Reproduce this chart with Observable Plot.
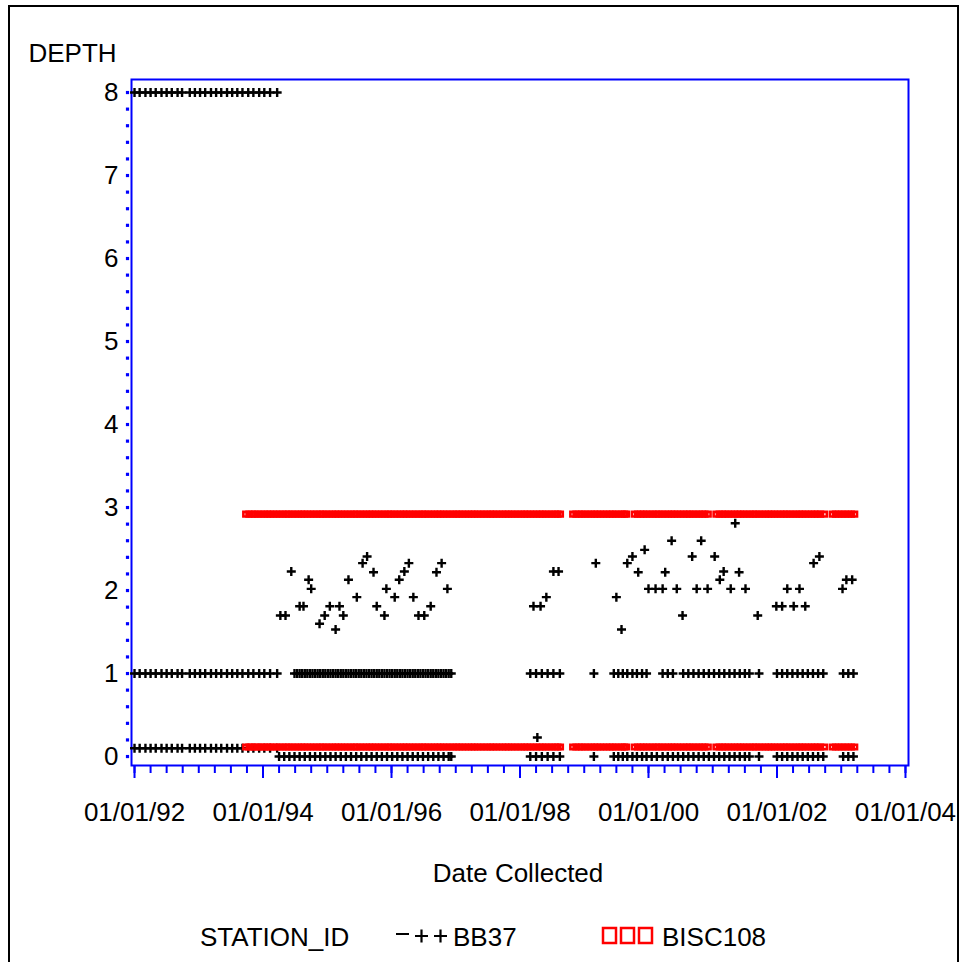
<!DOCTYPE html>
<html><head><meta charset="utf-8">
<script src="https://cdn.jsdelivr.net/npm/d3@7"></script>
<script src="https://cdn.jsdelivr.net/npm/@observablehq/plot@0.6"></script>
<style>
html,body{margin:0;padding:0;background:#fff;}
body{width:961px;height:962px;overflow:hidden;position:relative;font-family:"Liberation Sans",Arial,sans-serif;}
#chart{position:absolute;left:0;top:0;}
#legend{position:absolute;left:0;top:900px;}
#border{position:absolute;left:8px;top:5px;width:951px;height:990px;border:2px solid #000;box-sizing:border-box;pointer-events:none;}
</style></head><body>
<div id="chart"></div>
<svg id="legend" width="961" height="62" xmlns="http://www.w3.org/2000/svg"></svg>
<div id="border"></div>
<script>
// ---------- DATA (dates as decimal years, depth in metres) ----------
const stations = ["BB37", "BISC108"];

// BB37: early survey dates (sampled at depth 8, 1 and 0.1)
const bb37EarlyDates = [1992.00,1992.08,1992.17,1992.25,1992.33,1992.42,1992.50,1992.58,1992.67,1992.74,
  1992.86,1992.94,1993.02,1993.10,1993.19,1993.27,1993.35,1993.44,1993.52,1993.60,1993.68,1993.77,
  1993.85,1993.94,1994.02,1994.11,1994.22];
const bb37EarlyDepths = [8, 1, 0.1];

// BB37: 1994–1996 dates, depth 0 and depth 1
const bb37MidDates0 = [1994.25,1994.33,1994.41,1994.49,1994.57,1994.65,1994.73,1994.81,1994.89,1994.97,
  1995.05,1995.13,1995.21,1995.29,1995.37,1995.45,1995.53,1995.61,1995.69,1995.77,1995.85,1995.93,
  1996.01,1996.09,1996.17,1996.25,1996.33,1996.41,1996.49,1996.57,1996.65,1996.73,1996.81,1996.89,1996.93];
const bb37MidDates1 = [1994.49,1994.53,1994.57,1994.61,1994.65,1994.69,1994.73,1994.77,1994.81,1994.85,1994.89,1994.93,1994.97,
  1995.01,1995.05,1995.09,1995.13,1995.17,1995.21,1995.25,1995.29,1995.33,1995.37,1995.41,1995.45,1995.49,1995.53,
  1995.57,1995.61,1995.65,1995.69,1995.73,1995.77,1995.81,1995.85,1995.89,1995.93,1995.97,1996.01,1996.05,1996.09,
  1996.13,1996.17,1996.21,1996.25,1996.29,1996.33,1996.37,1996.41,1996.45,1996.49,1996.53,1996.57,1996.61,1996.65,
  1996.69,1996.73,1996.77,1996.81,1996.85,1996.89,1996.93];

// BB37: 1998–2003 dates, depth 0 and depth 1
const bb37LateDates0 = [1998.16,1998.25,1998.34,1998.43,1998.52,1998.62,1999.15,1999.46,1999.53,1999.60,
  1999.67,1999.75,1999.82,1999.90,1999.97,2000.05,2000.13,2000.22,2000.30,2000.38,2000.46,2000.54,2000.62,
  2000.70,2000.78,2000.86,2000.94,2001.02,2001.10,2001.18,2001.26,2001.34,2001.42,2001.50,2001.57,2001.72,
  2002.00,2002.08,2002.16,2002.24,2002.32,2002.40,2002.48,2002.56,2002.64,2002.72,2003.03,2003.11,2003.19];
const bb37LateDates1 = [1998.16,1998.25,1998.34,1998.43,1998.52,1998.62,1999.15,1999.46,1999.53,1999.60,
  1999.67,1999.75,1999.82,1999.90,1999.97,2000.22,2000.30,2000.38,2000.54,2000.62,2000.70,2000.78,2000.86,
  2000.94,2001.02,2001.10,2001.18,2001.26,2001.34,2001.42,2001.50,2001.57,2001.72,2002.00,2002.08,2002.16,
  2002.24,2002.32,2002.40,2002.48,2002.56,2002.64,2002.72,2003.03,2003.11,2003.19];

// BB37: bottom samples at variable depth
const bb37BottomDates = [1994.27,1994.35,1994.44,1994.57,1994.63,1994.71,1994.75,1994.88,1994.96,1995.04,
  1995.13,1995.19,1995.25,1995.33,1995.46,1995.55,1995.62,1995.72,1995.77,1995.89,1995.92,1996.05,1996.12,
  1996.20,1996.27,1996.34,1996.42,1996.51,1996.61,1996.70,1996.78,1996.87,1998.21,1998.32,1998.41,1998.52,
  1998.60,1998.27,1999.18,1999.50,1999.58,1999.67,1999.75,1999.84,1999.94,2000.00,2000.11,2000.22,2000.26,
  2000.36,2000.44,2000.53,2000.68,2000.75,2000.82,2000.92,2001.03,2001.11,2001.17,2001.28,2001.35,2001.41,
  2001.51,2001.70,2001.99,2002.08,2002.16,2002.26,2002.35,2002.44,2002.57,2002.66,2003.02,2003.08,2003.17];
const bb37BottomDepths = [1.70,1.70,2.23,1.81,1.81,2.13,2.02,1.60,1.70,1.81,
  1.53,1.81,1.70,2.13,1.92,2.33,2.41,2.22,1.81,1.70,2.02,1.92,2.13,
  2.23,2.33,1.92,1.70,1.70,1.81,2.22,2.33,2.02,1.81,1.81,1.92,2.23,
  2.23,0.23,2.33,1.92,1.53,2.33,2.41,2.22,2.49,2.02,2.02,2.02,2.22,
  2.60,2.02,1.70,2.41,2.02,2.60,2.02,2.41,2.13,2.23,2.02,2.81,2.22,
  2.02,1.70,1.81,1.81,2.02,1.81,2.02,1.81,2.33,2.41,2.02,2.13,2.13];

// BISC108: sampling dates, each sampled at two depths
const bisc108Dates = [1993.73,1993.78,1993.83,1993.87,1993.92,1993.97,
  1994.02,1994.07,1994.11,1994.16,1994.21,1994.26,1994.31,1994.36,1994.40,1994.45,1994.50,1994.55,1994.60,1994.64,1994.69,1994.74,1994.79,1994.84,1994.89,1994.93,1994.98,
  1995.03,1995.08,1995.13,1995.17,1995.22,1995.27,1995.32,1995.37,1995.42,1995.46,1995.51,1995.56,1995.61,1995.66,1995.70,1995.75,1995.80,1995.85,1995.90,1995.95,1995.99,
  1996.04,1996.09,1996.14,1996.19,1996.23,1996.28,1996.33,1996.38,1996.43,1996.48,1996.52,1996.57,1996.62,1996.67,1996.72,1996.76,1996.81,1996.86,1996.91,1996.96,
  1997.01,1997.05,1997.10,1997.15,1997.20,1997.25,1997.29,1997.34,1997.39,1997.44,1997.49,1997.54,1997.58,1997.63,1997.68,1997.73,1997.78,1997.82,1997.87,1997.92,1997.97,
  1998.02,1998.07,1998.11,1998.16,1998.21,1998.26,1998.31,1998.35,1998.40,1998.45,1998.50,1998.55,1998.59,1998.63,
  1998.82,1998.87,1998.92,1998.96,1999.01,1999.06,1999.11,1999.16,1999.20,1999.25,1999.30,1999.35,1999.40,1999.44,1999.49,1999.54,1999.59,1999.63,1999.66,
  1999.78,1999.83,1999.88,1999.92,1999.97,2000.02,2000.07,2000.12,2000.16,2000.21,2000.26,2000.31,2000.36,2000.40,2000.45,2000.50,2000.55,2000.60,2000.64,2000.69,2000.74,2000.79,2000.84,2000.88,2000.93,
  2001.05,2001.10,2001.15,2001.19,2001.24,2001.29,2001.34,2001.39,2001.43,2001.48,2001.53,2001.58,2001.63,2001.67,2001.72,2001.77,2001.82,2001.87,2001.91,2001.96,
  2002.01,2002.06,2002.11,2002.15,2002.20,2002.25,2002.30,2002.35,2002.39,2002.44,2002.49,2002.54,2002.59,2002.63,2002.68,2002.74,
  2002.86,2002.91,2002.96,2003.01,2003.06,2003.11,2003.16,2003.21];
const bisc108Depths = [2.92, 0.115];

// Axis ticks
const xMajorTicks = [1992, 1994, 1996, 1998, 2000, 2002, 2004];
const xTickLabels = ["01/01/92","01/01/94","01/01/96","01/01/98","01/01/00","01/01/02","01/01/04"];
const yMajorTicks = [0,1,2,3,4,5,6,7,8];
const yTickLabels = ["0","1","2","3","4","5","6","7","8"];
const yTitle = "DEPTH";
const xTitle = "Date Collected";
const legendTitle = "STATION_ID";

// ---------- build tables ----------
const bb37 = [
  ...bb37EarlyDepths.flatMap(dep => bb37EarlyDates.map(d => ({date: d, depth: dep}))),
  ...bb37MidDates0.map(d => ({date: d, depth: 0})),
  ...bb37MidDates1.map(d => ({date: d, depth: 1})),
  ...bb37LateDates0.map(d => ({date: d, depth: 0})),
  ...bb37LateDates1.map(d => ({date: d, depth: 1})),
  ...bb37BottomDates.map((d, i) => ({date: d, depth: bb37BottomDepths[i]}))
];
const bisc108 = bisc108Depths.flatMap(dep => bisc108Dates.map(d => ({date: d, depth: dep})));

const xMinorTicks = d3.range(1992, 2004.001, 0.25);
const yMinorTicks = d3.range(0, 8.001, 0.2);

const BLUE = "#0000ff", RED = "#ff0000";
const FONT = "'Liberation Sans', Arial, sans-serif";

const plusSymbol = {draw(ctx, size) { const r = Math.sqrt(size / Math.PI);
  ctx.moveTo(-r, 0); ctx.lineTo(r, 0); ctx.moveTo(0, -r); ctx.lineTo(0, r); }};
const squareSymbol = {draw(ctx, size) { const r = Math.sqrt(size / Math.PI);
  ctx.moveTo(-r, -r); ctx.lineTo(r, -r); ctx.lineTo(r, r); ctx.lineTo(-r, r); ctx.closePath(); }};

const chart = Plot.plot({
  width: 961, height: 900,
  marginLeft: 131, marginRight: 53, marginTop: 79, marginBottom: 135,
  x: {type: "linear", domain: [1991.953, 2004.047], axis: null},
  y: {type: "linear", domain: [-0.108, 8.157], axis: null},
  style: {fontFamily: FONT, background: "white", color: "black", overflow: "visible"},
  marks: [
    Plot.frame({stroke: BLUE, strokeWidth: 2}),
    Plot.axisX(xMinorTicks, {tickSize: 8, text: null, label: null, stroke: BLUE, strokeWidth: 2}),
    Plot.axisX(xMajorTicks, {tickSize: 13, text: null, label: null, stroke: BLUE, strokeWidth: 2}),
    Plot.axisX(xMajorTicks, {tickSize: 0, tickPadding: 37, label: null, fontSize: 26, fill: "black",
      tickFormat: d => xTickLabels[xMajorTicks.indexOf(d)]}),
    Plot.dot(yMinorTicks, {y: d => d, frameAnchor: "left", dx: -4, symbol: "square", r: 1.8, fill: BLUE}),
    Plot.axisY(yMajorTicks, {tickSize: 0, tickPadding: 13, label: null, fontSize: 26, fill: "black",
      tickFormat: d => yTickLabels[yMajorTicks.indexOf(d)]}),
    Plot.text([yTitle], {frameAnchor: "top-left", dx: -103, dy: -36, textAnchor: "start", lineAnchor: "top", fontSize: 26, fill: "black"}),
    Plot.text([xTitle], {frameAnchor: "bottom", dx: -2, dy: 98, lineAnchor: "top", fontSize: 26, fill: "black"}),
    Plot.dot(bb37, {x: "date", y: "depth", symbol: plusSymbol, r: 4.5, stroke: "black", strokeWidth: 2.4, fill: "none"}),
    Plot.dot(bisc108, {x: "date", y: "depth", symbol: squareSymbol, r: 2.3, stroke: RED, strokeWidth: 2.6, fill: "none"})
  ]
});
document.getElementById("chart").appendChild(chart);

// ---------- legend ----------
const lg = d3.select("#legend").style("font-family", FONT);
lg.append("text").attr("x", 200).attr("y", 46).attr("font-size", 26).attr("fill", "black").text(legendTitle);
// BB37 sample: dash + two pluses
lg.append("path").attr("d", "M396,34H409 M415,36H428 M421.5,29.5V42.5 M434,36H447 M440.5,29.5V42.5")
  .attr("stroke", "black").attr("stroke-width", 2.2).attr("fill", "none");
lg.append("text").attr("x", 453).attr("y", 46).attr("font-size", 26).attr("fill", "black").text(stations[0]);
// BISC108 sample: three squares
[603, 621, 639].forEach(x => lg.append("rect").attr("x", x).attr("y", 28).attr("width", 13).attr("height", 15)
  .attr("stroke", RED).attr("stroke-width", 2.5).attr("fill", "none"));
lg.append("text").attr("x", 662).attr("y", 46).attr("font-size", 26).attr("fill", "black").text(stations[1]);
</script></body></html>
